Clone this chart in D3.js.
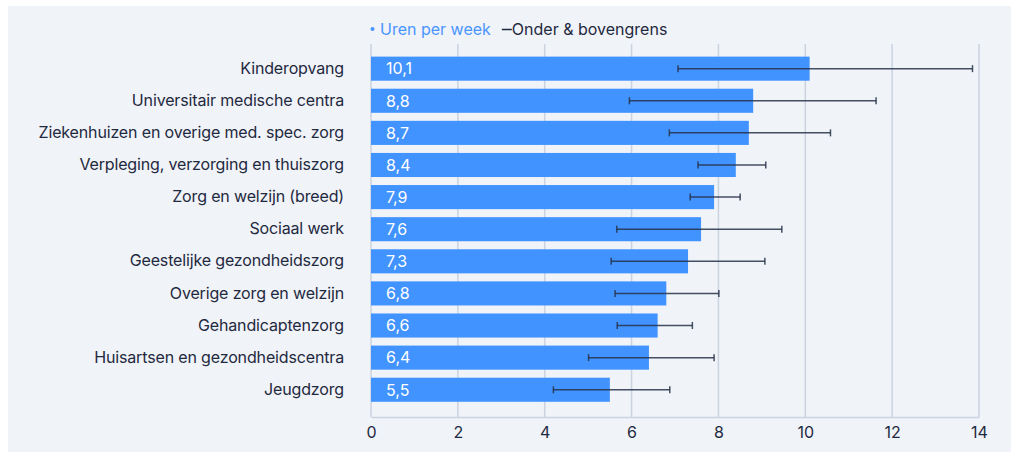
<!DOCTYPE html>
<html>
<head>
<meta charset="utf-8">
<script src="https://cdn.jsdelivr.net/npm/d3@7"></script>
<style>
  html, body { margin: 0; padding: 0; background: #ffffff; }
  svg { display: block; font-family: Inter, "Noto Sans", sans-serif; }
</style>
</head>
<body>
<svg id="chart" width="1011" height="452"></svg>
<script>
const categories = [
  "Kinderopvang",
  "Universitair medische centra",
  "Ziekenhuizen en overige med. spec. zorg",
  "Verpleging, verzorging en thuiszorg",
  "Zorg en welzijn (breed)",
  "Sociaal werk",
  "Geestelijke gezondheidszorg",
  "Overige zorg en welzijn",
  "Gehandicaptenzorg",
  "Huisartsen en gezondheidscentra",
  "Jeugdzorg"
];
const hours = [10.1, 8.8, 8.7, 8.4, 7.9, 7.6, 7.3, 6.8, 6.6, 6.4, 5.5];
const lower = [7.07, 5.95, 6.87, 7.53, 7.35, 5.66, 5.53, 5.62, 5.67, 5.01, 4.20];
const upper = [13.85, 11.63, 10.58, 9.09, 8.50, 9.46, 9.07, 8.01, 7.40, 7.90, 6.88];
const xTicks = [0, 2, 4, 6, 8, 10, 12, 14];
const legendLabels = ["Uren per week", "Onder & bovengrens"];

const svg = d3.select("#chart");
const W = 1011, H = 452;
const plot = { left: 371, right: 979, top: 44, bottom: 417 };
const textColor = "#1f2940";
const gridColor = "#cbd3e1";
const barColor = "#4193ff";
const errColor = "#27314a";
const FS = 16;

// panel background
svg.append("rect").attr("x", 8).attr("y", 6).attr("width", W - 8).attr("height", H - 6)
  .attr("fill", "#f0f3f8");

const x = d3.scaleLinear().domain([0, 14]).range([plot.left, plot.right]);
const y = d3.scaleBand().domain(categories).range([52.6, 405.8])
  .paddingInner(0.25).paddingOuter(0.125);

// gridlines
svg.append("g").selectAll("line").data(xTicks).join("line")
  .attr("x1", d => x(d)).attr("x2", d => x(d))
  .attr("y1", plot.top).attr("y2", plot.bottom)
  .attr("stroke", gridColor).attr("stroke-width", 1.5);

// x axis
const xAxis = svg.append("g").attr("transform", `translate(0,${plot.bottom})`)
  .call(d3.axisBottom(x).tickValues(xTicks).tickSize(0).tickPadding(10).tickFormat(d3.format("d")));
xAxis.select(".domain").attr("stroke", gridColor).attr("stroke-width", 1.5);
xAxis.selectAll("text").attr("font-size", FS).attr("fill", textColor)
  .attr("font-family", "Inter, 'Noto Sans', sans-serif");

// y axis labels
const yAxis = svg.append("g").attr("transform", `translate(${plot.left},0)`)
  .call(d3.axisLeft(y).tickSize(0).tickPadding(27));
yAxis.select(".domain").remove();
yAxis.selectAll("text").attr("font-size", FS).attr("fill", textColor)
  .attr("font-family", "Inter, 'Noto Sans', sans-serif")
  .attr("letter-spacing", -0.15);

// bars
svg.append("g").selectAll("rect").data(categories).join("rect")
  .attr("x", x(0)).attr("y", d => y(d))
  .attr("width", (d, i) => x(hours[i]) - x(0))
  .attr("height", y.bandwidth())
  .attr("fill", barColor);

// value labels
svg.append("g").selectAll("text").data(categories).join("text")
  .attr("x", x(0) + 15).attr("y", d => y(d) + y.bandwidth() / 2)
  .attr("dy", "0.36em")
  .attr("font-size", FS).attr("fill", "#ffffff")
  .text((d, i) => d3.format(".1f")(hours[i]).replace(".", ","));

// error bars
const eg = svg.append("g").attr("stroke", errColor).attr("stroke-width", 1.5).attr("stroke-opacity", 0.85);
categories.forEach((c, i) => {
  const cy = y(c) + y.bandwidth() / 2;
  eg.append("line").attr("x1", x(lower[i])).attr("x2", x(upper[i])).attr("y1", cy).attr("y2", cy);
  eg.append("line").attr("x1", x(lower[i])).attr("x2", x(lower[i])).attr("y1", cy - 3.5).attr("y2", cy + 3.5);
  eg.append("line").attr("x1", x(upper[i])).attr("x2", x(upper[i])).attr("y1", cy - 3.5).attr("y2", cy + 3.5);
});

// legend
const lg = svg.append("g").attr("font-size", FS);
lg.append("circle").attr("cx", 372.5).attr("cy", 29).attr("r", 2).attr("fill", "#4a95ff");
const t1 = lg.append("text").attr("x", 380).attr("y", 35).attr("fill", "#4a95ff").text(legendLabels[0]);
const w1 = t1.node().getComputedTextLength();
const lx = 380 + w1 + 11;
lg.append("line").attr("x1", lx).attr("x2", lx + 10).attr("y1", 29.5).attr("y2", 29.5)
  .attr("stroke", textColor).attr("stroke-width", 1.5);
lg.append("text").attr("x", lx + 10).attr("y", 35).attr("fill", textColor).text(legendLabels[1]);
</script>
</body>
</html>
